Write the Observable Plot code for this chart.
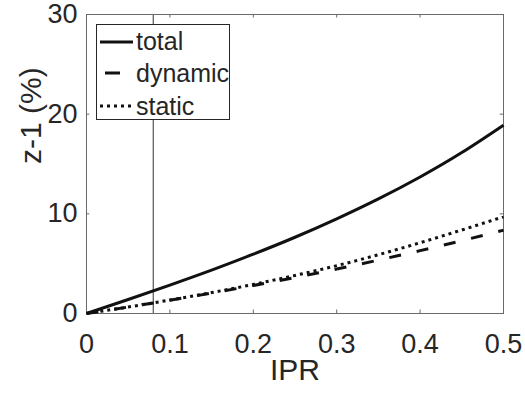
<!DOCTYPE html>
<html>
<head>
<meta charset="utf-8">
<script src="https://cdn.jsdelivr.net/npm/d3@7"></script>
<script src="https://cdn.jsdelivr.net/npm/@observablehq/plot@0.6"></script>
<style>
  html, body { margin: 0; padding: 0; background: #fff; }
  #wrap { position: relative; width: 525px; height: 394px; font-family: "Liberation Sans", Arial, sans-serif; }
  #legend { position: absolute; left: 96px; top: 24px; width: 134px; height: 96px; border: 1px solid #262626; background: #fff; box-sizing: border-box; }
  .row { position: absolute; left: 0; height: 32px; display: flex; align-items: center; }
  .row span { font-size: 25px; color: #262626; margin-left: 2px; line-height: 1; }
</style>
</head>
<body>
<div id="wrap"></div>
<script>
const ipr = [0, 0.05, 0.1, 0.15, 0.2, 0.25, 0.3, 0.35, 0.4, 0.45, 0.5];
const total   = [0, 1.4, 2.85, 4.35, 5.95, 7.65, 9.5, 11.5, 13.7, 16.15, 18.9];
const dynamic = [0, 0.65, 1.33, 2.05, 2.81, 3.61, 4.46, 5.36, 6.31, 7.31, 8.36];
const staticV = [0, 0.65, 1.35, 2.1, 2.92, 3.82, 4.8, 5.9, 7.1, 8.38, 9.7];
const seriesNames = ["total", "dynamic", "static"];
const xTicks = [0, 0.1, 0.2, 0.3, 0.4, 0.5];
const yTicks = [0, 10, 20, 30];
const markerX = [0.08];

const styles = {
  total:   {strokeDasharray: null},
  dynamic: {strokeDasharray: "12,16"},
  static:  {strokeDasharray: "3,4"}
};
const valuesBy = {total, dynamic, static: staticV};
const rows = seriesNames.flatMap(s => ipr.map((x, i) => ({series: s, x, y: valuesBy[s][i]})));

const ink = "#262626";
const frameColor = "#6a6a6a";

const chart = Plot.plot({
  width: 525,
  height: 394,
  marginLeft: 86,
  marginRight: 22,
  marginTop: 14,
  marginBottom: 81,
  style: {fontFamily: "'Liberation Sans', Arial, sans-serif", color: ink, background: "#fff"},
  x: {domain: [0, 0.5]},
  y: {domain: [0, 30]},
  marks: [
    Plot.ruleX(markerX, {stroke: "#333", strokeWidth: 1}),
    // inward ticks
    Plot.ruleX(xTicks.slice(1, -1), {y1: 0, y2: 0.35, stroke: frameColor}),
    Plot.ruleX(xTicks.slice(1, -1), {y1: 29.65, y2: 30, stroke: frameColor}),
    Plot.ruleY(yTicks.slice(1, -1), {x1: 0, x2: 0.004, stroke: frameColor}),
    Plot.ruleY(yTicks.slice(1, -1), {x1: 0.496, x2: 0.5, stroke: frameColor}),
    Plot.frame({stroke: frameColor}),
    ...seriesNames.map(s => Plot.line(rows.filter(d => d.series === s), {
      x: "x", y: "y", stroke: "#111", strokeWidth: 3, curve: "natural",
      strokeDasharray: styles[s].strokeDasharray, strokeLinecap: "butt"
    })),
    Plot.axisX(xTicks, {tickSize: 0, tickPadding: 20, fontSize: 27, fill: ink, label: null, tickFormat: d => String(d)}),
    Plot.axisY(yTicks, {tickSize: 0, tickPadding: 9, fontSize: 27, fill: ink, label: null, tickFormat: d => String(d)}),
    Plot.text(["IPR"], {frameAnchor: "bottom", dy: 66, fontSize: 30, fill: ink, text: d => d}),
    Plot.text(["z-1 (%)"], {frameAnchor: "left", dx: -55, rotate: -90, fontSize: 30, fill: ink, text: d => d})
  ]
});

const wrap = document.getElementById("wrap");
wrap.appendChild(chart);

const legend = document.createElement("div");
legend.id = "legend";
const centers = [17.5, 49, 82];
seriesNames.forEach((s, i) => {
  const row = document.createElement("div");
  row.className = "row";
  row.style.top = (centers[i] - 16 - 1) + "px";
  const dash = styles[s].strokeDasharray;
  row.innerHTML = `<svg width="37" height="32" style="display:block"><line x1="3" x2="36" y1="16" y2="16" stroke="#111" stroke-width="3" ${dash ? `stroke-dasharray="${s === "dynamic" ? "0,5,15,20" : "3,4"}"` : ""}/></svg><span>${s}</span>`;
  legend.appendChild(row);
});
wrap.appendChild(legend);
</script>
</body>
</html>
